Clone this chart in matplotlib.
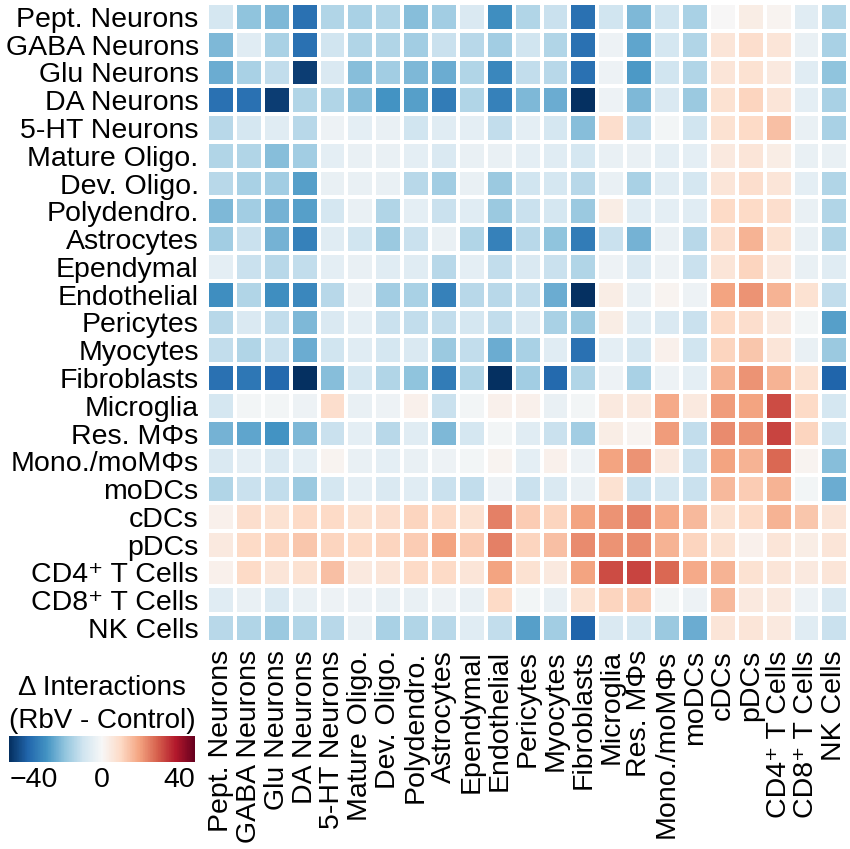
import matplotlib
matplotlib.use("Agg")
import matplotlib.pyplot as plt
import numpy as np

plt.rcParams["font.family"] = ["Liberation Sans", "DejaVu Sans"]

cell_types = [
    "Pept. Neurons", "GABA Neurons", "Glu Neurons", "DA Neurons", "5-HT Neurons",
    "Mature Oligo.", "Dev. Oligo.", "Polydendro.", "Astrocytes", "Ependymal",
    "Endothelial", "Pericytes", "Myocytes", "Fibroblasts", "Microglia",
    "Res. M\u03a6s", "Mono./moM\u03a6s", "moDCs", "cDCs", "pDCs",
    "CD4\u207a T Cells", "CD8\u207a T Cells", "NK Cells",
]

# delta interactions (RbV - Control), one list per sender row
pept = [-7, -16, -18, -30, -12, -13, -12, -17, -14, -6, -25, -12, -9, -30, -8, -18, -8, -13, 0, 3, 1, -5, -12]
gaba = [-18, -5, -13, -30, -8, -12, -12, -14, -9, -11, -14, -8, -12, -30, -2, -21, -7, -12, 5, 7, 5, -3, -13]
glu = [-20, -13, -10, -38, -6, -17, -14, -18, -20, -12, -26, -10, -11, -30, -2, -23, -8, -12, 5, 6, 4, -5, -16]
da = [-30, -30, -38, -12, -12, -17, -24, -22, -28, -12, -27, -18, -20, -40, -2, -18, -6, -15, 6, 9, 5, -4, -13]
ht5 = [-11, -7, -5, -11, -2, -4, -3, -8, -5, -4, -10, -4, -7, -17, 7, -10, -1, -8, 6, 8, 12, -3, -13]
mature_oligo = [-12, -12, -17, -14, -4, -3, -3, -4, -6, -3, -3, -4, -5, -7, -3, -3, -4, -4, 4, 5, 3, -3, -3]
dev_oligo = [-11, -13, -14, -22, -3, -3, -3, -11, -14, -3, -15, -8, -7, -11, -3, -13, -5, -7, 5, 7, 5, -4, -12]
polydendro = [-18, -14, -19, -22, -7, -3, -12, -4, -9, -5, -15, -9, -7, -15, 3, -5, -4, -5, 8, 8, 7, -3, -12]
astrocytes = [-14, -9, -19, -27, -5, -8, -15, -9, -3, -12, -27, -11, -16, -28, -9, -19, -3, -11, 7, 14, 6, -3, -12]
ependymal = [-4, -9, -11, -10, -4, -3, -5, -5, -11, -4, -10, -6, -9, -12, -2, -6, -2, -9, 5, 9, 4, -3, -5]
endothelial = [-25, -12, -25, -26, -11, -3, -14, -13, -27, -11, -11, -10, -20, -40, 3, -3, 1, -2, 16, 18, 14, 6, -10]
pericytes = [-11, -6, -10, -18, -6, -4, -9, -10, -10, -7, -10, -6, -13, -15, 3, -5, -6, -9, 8, 7, 4, -1, -22]
myocytes = [-10, -12, -9, -20, -8, -5, -7, -6, -15, -10, -20, -13, -5, -30, -4, -7, 2, -8, 9, 11, 5, -3, -15]
fibroblasts = [-30, -29, -31, -40, -17, -7, -12, -16, -28, -12, -40, -14, -31, -12, -2, -13, -2, -4, 14, 18, 14, 6, -32]
microglia = [-7, -1, -1, -2, 7, -3, -2, 2, -9, -1, 2, 2, -3, -1, 4, 4, 15, 4, 17, 16, 26, 8, -7]
res_mphs = [-19, -21, -24, -18, -9, -4, -11, -5, -18, -7, -1, -5, -9, -14, 3, 1, 17, -10, 19, 18, 27, 9, -8]
mono = [-6, -4, -6, -4, 1, -3, -4, -3, -2, -1, 1, -4, 2, -2, 16, 18, 4, -9, 16, 14, 23, 1, -17]
modcs = [-12, -9, -10, -15, -7, -4, -6, -5, -9, -10, -2, -9, -6, -3, 6, -9, -7, -9, 13, 10, 14, -1, -20]
cdcs = [2, 7, 6, 8, 8, 6, 7, 9, 8, 6, 20, 10, 9, 16, 18, 20, 15, 13, 6, 8, 14, 11, 5]
pdcs = [4, 8, 9, 11, 9, 8, 9, 10, 16, 10, 20, 9, 12, 19, 18, 19, 14, 9, 6, 2, 5, 3, 5]
cd4 = [2, 8, 5, 6, 12, 4, 5, 8, 8, 5, 16, 6, 4, 16, 26, 27, 23, 15, 14, 6, 5, 4, 5]
cd8 = [-5, -3, -6, -3, -2, -2, -3, -3, -2, -3, 8, -1, -3, 6, 9, 10, -1, -2, 13, 4, 4, -2, -6]
nk = [-11, -12, -15, -12, -11, -3, -13, -12, -11, -5, -10, -22, -14, -32, -6, -7, -15, -20, 5, 5, 4, -5, -9]

rows = [pept, gaba, glu, da, ht5, mature_oligo, dev_oligo, polydendro, astrocytes,
        ependymal, endothelial, pericytes, myocytes, fibroblasts, microglia, res_mphs,
        mono, modcs, cdcs, pdcs, cd4, cd8, nk]
values = np.array(rows, dtype=float)

fig = plt.figure(figsize=(8.5, 8.49), dpi=100)
ax = fig.add_axes([0.2435, 0.244, 0.7545, 0.7525])

n = len(cell_types)
mesh = ax.pcolormesh(values, cmap="RdBu_r", vmin=-40, vmax=40,
                     edgecolors="white", linewidth=1.6)
ax.set_xlim(0, n)
ax.set_ylim(n, 0)
ax.set_xticks(np.arange(n) + 0.5)
ax.set_yticks(np.arange(n) + 0.5)
ax.set_xticklabels(cell_types, rotation=90, fontsize=20.5)
ax.set_yticklabels(cell_types, fontsize=20.5)
ax.tick_params(length=0, pad=6)
for spine in ax.spines.values():
    spine.set_visible(False)

cax = fig.add_axes([0.011, 0.103, 0.218, 0.030])
cbar = fig.colorbar(mesh, cax=cax, orientation="horizontal", ticks=[-40, 0, 40])
cbar.outline.set_visible(False)
cbar.ax.tick_params(length=0, labelsize=20.5, pad=4)
tick_labels = cbar.ax.get_xticklabels()
tick_labels[0].set_ha("left")
tick_labels[-1].set_ha("right")
cax.set_title("\u0394 Interactions\n(RbV - Control)", fontsize=20, pad=6,
              linespacing=1.35)

fig.savefig("out.png", dpi=100)
